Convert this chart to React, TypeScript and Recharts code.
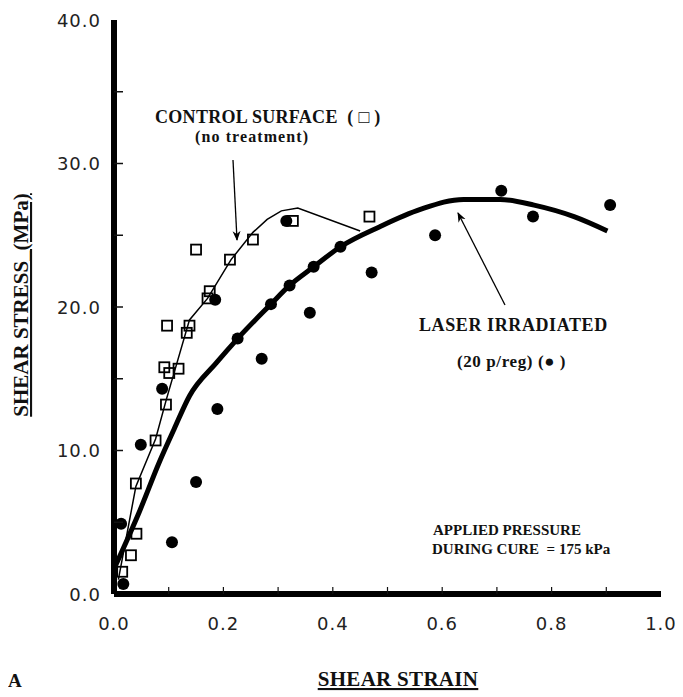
import React from "react";
import {
  ComposedChart,
  Line,
  Scatter,
  XAxis,
  YAxis,
} from "recharts";

// ---- data ----
const controlPoints = [
  { x: 0.015, y: 1.55 }, { x: 0.031, y: 2.7 }, { x: 0.041, y: 4.2 },
  { x: 0.04, y: 7.7 }, { x: 0.076, y: 10.7 }, { x: 0.095, y: 13.2 },
  { x: 0.101, y: 15.4 }, { x: 0.092, y: 15.8 }, { x: 0.118, y: 15.7 },
  { x: 0.133, y: 18.2 }, { x: 0.138, y: 18.7 }, { x: 0.097, y: 18.7 },
  { x: 0.15, y: 24.0 }, { x: 0.171, y: 20.6 }, { x: 0.175, y: 21.1 },
  { x: 0.212, y: 23.3 }, { x: 0.254, y: 24.7 }, { x: 0.327, y: 26.0 },
  { x: 0.467, y: 26.3 },
];

const laserPoints = [
  { x: 0.017, y: 0.7 }, { x: 0.013, y: 4.9 }, { x: 0.049, y: 10.4 },
  { x: 0.088, y: 14.3 }, { x: 0.106, y: 3.6 }, { x: 0.15, y: 7.8 },
  { x: 0.185, y: 20.5 }, { x: 0.189, y: 12.9 }, { x: 0.226, y: 17.8 },
  { x: 0.27, y: 16.4 }, { x: 0.287, y: 20.2 }, { x: 0.315, y: 26.0 },
  { x: 0.321, y: 21.5 }, { x: 0.358, y: 19.6 }, { x: 0.365, y: 22.8 },
  { x: 0.414, y: 24.2 }, { x: 0.471, y: 22.4 }, { x: 0.587, y: 25.0 },
  { x: 0.708, y: 28.1 }, { x: 0.766, y: 26.3 }, { x: 0.907, y: 27.1 },
];

const controlCurve = [
  { x: 0.008, y: 1.0 }, { x: 0.04, y: 7.5 }, { x: 0.076, y: 10.8 },
  { x: 0.096, y: 13.6 }, { x: 0.138, y: 19.1 }, { x: 0.171, y: 20.6 },
  { x: 0.214, y: 23.3 }, { x: 0.254, y: 25.2 }, { x: 0.28, y: 26.1 },
  { x: 0.306, y: 26.7 }, { x: 0.336, y: 26.9 }, { x: 0.45, y: 25.3 },
];

const laserCurve = [
  { x: 0.003, y: 2.0 }, { x: 0.046, y: 5.7 }, { x: 0.083, y: 9.2 },
  { x: 0.11, y: 11.5 }, { x: 0.138, y: 13.8 }, { x: 0.187, y: 16.1 },
  { x: 0.226, y: 17.8 }, { x: 0.287, y: 20.2 }, { x: 0.321, y: 21.5 },
  { x: 0.365, y: 22.8 }, { x: 0.414, y: 24.2 }, { x: 0.486, y: 25.6 },
  { x: 0.56, y: 26.8 }, { x: 0.639, y: 27.5 }, { x: 0.706, y: 27.5 },
  { x: 0.768, y: 27.1 }, { x: 0.841, y: 26.3 }, { x: 0.902, y: 25.3 },
];

const xTicks = [0, 0.1, 0.2, 0.3, 0.4, 0.5, 0.6, 0.7, 0.8, 0.9, 1.0];
const xTopTicks = [0.2, 0.4, 0.6, 0.8];
const yTicks = [0, 5, 10, 15, 20, 25, 30, 35, 40];
const yRightTicks = [10, 20, 30];

const W = 675;
const H = 689;

const tickFont = {
  fontFamily: "'DejaVu Sans', sans-serif",
  fontSize: 18,
  letterSpacing: 1,
  fill: "#222",
};

const LeftTick = (props: any) => {
  const { x, y, payload } = props;
  const v = payload.value;
  const major = v % 10 === 0;
  return (
    <g>
      {v !== 0 && v !== 40 && (
        <line x1={x} x2={x + 9} y1={y} y2={y} stroke="#111" strokeWidth={1.5} />
      )}
      {major && (
        <text x={x - 13} y={y} textAnchor="end" dominantBaseline="central" {...tickFont}>
          {v.toFixed(1)}
        </text>
      )}
    </g>
  );
};

const BottomTick = (props: any) => {
  const { x, y, payload } = props;
  const v = payload.value;
  const major = Math.round(v * 10) % 2 === 0;
  return (
    <g>
      {v !== 0 && v !== 1 && (
        <line x1={x} x2={x} y1={y} y2={y - 7} stroke="#111" strokeWidth={1.2} />
      )}
      {major && (
        <text x={x} y={y + 29} textAnchor="middle" dominantBaseline="central" {...tickFont}>
          {v.toFixed(1)}
        </text>
      )}
    </g>
  );
};

const TopTick = (props: any) => {
  const { x, y } = props;
  return <line x1={x} x2={x} y1={y} y2={y + 7} stroke="#111" strokeWidth={1.2} />;
};

const RightTick = (props: any) => {
  const { x, y } = props;
  return <line x1={x} x2={x - 7} y1={y} y2={y} stroke="#111" strokeWidth={1.5} />;
};

const SquareShape = (p: any) => (
  <rect x={p.cx - 5} y={p.cy - 5} width={10} height={10} fill="none" stroke="#000" strokeWidth={1.8} />
);
const DotShape = (p: any) => <circle cx={p.cx} cy={p.cy} r={6} fill="#000" />;

const serif = "'Liberation Serif', 'Times New Roman', serif";
const pre = { whiteSpace: "pre" as const };

export default function App() {
  return (
    <div style={{ position: "relative", width: W, height: H }}>
      <ComposedChart
        width={W}
        height={H}
        margin={{ top: 12, right: 22, bottom: 0, left: 0 }}
      >
        <XAxis
          xAxisId="bottom"
          dataKey="x"
          type="number"
          domain={[0, 1]}
          ticks={xTicks}
          interval={0}
          height={103}
          tickSize={0}
          tickMargin={0}
          tickLine={false}
          axisLine={{ stroke: "#000", strokeWidth: 6 }}
          tick={<BottomTick />}
        />
        <XAxis
          xAxisId="top"
          orientation="top"
          dataKey="x"
          type="number"
          domain={[0, 1]}
          ticks={xTopTicks}
          interval={0}
          height={0}
          tickSize={0}
          tickMargin={0}
          tickLine={false}
          axisLine={{ stroke: "#000", strokeWidth: 3 }}
          tick={<TopTick />}
        />
        <YAxis
          yAxisId="left"
          dataKey="y"
          type="number"
          domain={[0, 40]}
          ticks={yTicks}
          interval={0}
          width={106}
          tickSize={0}
          tickMargin={0}
          tickLine={false}
          axisLine={{ stroke: "#000", strokeWidth: 6 }}
          tick={<LeftTick />}
        />
        <YAxis
          yAxisId="right"
          orientation="right"
          type="number"
          domain={[0, 40]}
          ticks={yRightTicks}
          interval={0}
          width={0}
          tickSize={0}
          tickMargin={0}
          tickLine={false}
          axisLine={{ stroke: "#000", strokeWidth: 3 }}
          tick={<RightTick />}
        />
        <Line
          xAxisId="bottom"
          yAxisId="left"
          data={controlCurve}
          dataKey="y"
          type="linear"
          stroke="#000"
          strokeWidth={1.5}
          dot={false}
          activeDot={false}
          isAnimationActive={false}
        />
        <Line
          xAxisId="bottom"
          yAxisId="left"
          data={laserCurve}
          dataKey="y"
          type="monotone"
          stroke="#000"
          strokeWidth={5}
          dot={false}
          activeDot={false}
          isAnimationActive={false}
        />
        <Scatter
          xAxisId="bottom"
          yAxisId="left"
          data={controlPoints}
          dataKey="y"
          shape={SquareShape}
          isAnimationActive={false}
        />
        <Scatter
          xAxisId="bottom"
          yAxisId="left"
          data={laserPoints}
          dataKey="y"
          shape={DotShape}
          isAnimationActive={false}
        />
      </ComposedChart>
      <svg
        width={W}
        height={H}
        style={{ position: "absolute", left: 0, top: 0, pointerEvents: "none" }}
      >
        <defs>
          <marker id="ah" markerWidth="10" markerHeight="10" refX="9" refY="5" orient="auto" markerUnits="userSpaceOnUse">
            <path d="M0,1 L10,5 L0,9 L3,5 Z" fill="#000" />
          </marker>
        </defs>
        <g fontFamily={serif} fontWeight="bold" fill="#111">
          <text x={147} y={115} fontSize={18} letterSpacing={0.3} style={pre}>CONTROL SURFACE  ( □ )</text>
          <text x={187} y={134} fontSize={16} letterSpacing={1.1}>(no treatment)</text>
          <text x={411} y={323} fontSize={18} letterSpacing={0.6}>LASER IRRADIATED</text>
          <text x={449} y={359} fontSize={17} letterSpacing={0.6} style={pre}>(20 p/reg) (● )</text>
          <text x={425} y={527} fontSize={15}>APPLIED PRESSURE</text>
          <text x={424} y={546} fontSize={15} style={pre}>DURING CURE  = 175 kPa</text>
          <text x={0} y={679} fontSize={19}>A</text>
          <text x={390} y={678} fontSize={21} letterSpacing={0.3} textAnchor="middle" textDecoration="underline">SHEAR STRAIN</text>
          <text
            x={0}
            y={0}
            fontSize={21}
            textAnchor="middle"
            textDecoration="underline"
            transform="translate(20,297) rotate(-90)"
          >
            SHEAR STRESS_(MPa)
          </text>
        </g>
        <line x1={225} y1={152} x2={229} y2={232} stroke="#000" strokeWidth={1.3} markerEnd="url(#ah)" />
        <line x1={497} y1={297} x2={450} y2={205} stroke="#000" strokeWidth={1.3} markerEnd="url(#ah)" />
      </svg>
    </div>
  );
}
